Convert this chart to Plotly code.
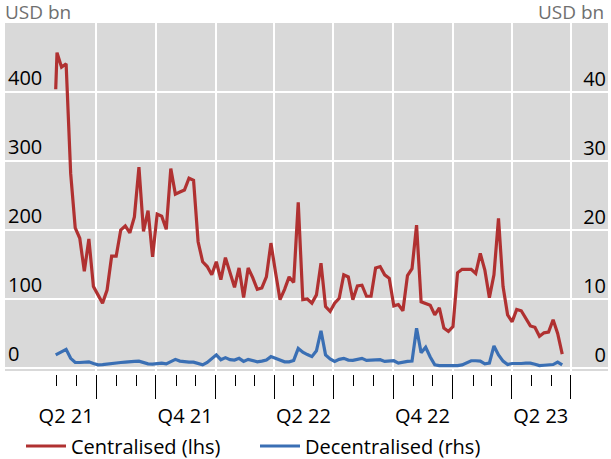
import plotly.graph_objects as go
import pandas as pd

# ---------------- data ----------------
first_date = "2021-04-30"
weekly_start = "2021-05-02"

centralised_first = 404
centralised = [
    457, 436, 441, 282, 203, 188, 140, 187, 118, 106,
    94, 113, 162, 162, 200, 206, 196, 219, 291, 198,
    228, 161, 223, 220, 201, 289, 252, 255, 258, 275,
    272, 183, 154, 147, 135, 154, 128, 160, 140, 117,
    145, 102, 145, 131, 114, 116, 132, 181, 139, 99,
    114, 132, 124, 240, 99, 100, 94, 106, 152, 89,
    82, 94, 101, 135, 132, 99, 119, 120, 104, 104,
    145, 147, 135, 130, 90, 92, 83, 134, 144, 207,
    96, 94, 91, 77, 87, 58, 53, 60, 138, 143,
    143, 143, 137, 166, 142, 102, 135, 217, 118, 77,
    67, 85, 83, 72, 61, 59, 46, 51, 52, 70,
    50, 20,
]

decentralised_first = 1.9
decentralised = [
    2.0, 2.4, 2.7, 1.4, 0.8, 0.8, 0.8, 0.9, 0.65, 0.45,
    0.5, 0.6, 0.7, 0.8, 0.8, 0.85, 0.85, 0.95, 1.0, 0.8,
    0.6, 0.55, 0.6, 0.7, 0.6, 0.9, 1.25, 1.0, 0.9, 0.85,
    0.85, 0.65, 0.45, 0.8, 1.4, 1.9, 1.2, 1.5, 1.2, 1.15,
    1.4, 0.95, 1.25, 1.1, 0.9, 1.0, 1.15, 1.65, 1.4, 1.15,
    0.9, 0.9, 1.1, 2.85, 2.3, 1.95, 1.65, 2.5, 5.4, 1.9,
    1.3, 0.95, 1.25, 1.4, 1.15, 1.1, 1.3, 1.4, 1.1, 1.15,
    1.2, 1.2, 0.95, 1.0, 1.05, 0.7, 0.85, 0.95, 1.0, 5.75,
    2.2, 3.0, 1.6, 0.45, 0.35, 0.35, 0.3, 0.3, 0.35, 0.45,
    0.8, 1.05, 1.05, 1.0, 0.6, 0.7, 3.2, 1.9, 1.0, 0.5,
    0.65, 0.6, 0.65, 0.7, 0.7, 0.55, 0.35, 0.4, 0.45, 0.5,
    0.85, 0.45,
]

quarter_labels = ["Q2 21", "Q4 21", "Q2 22", "Q4 22", "Q2 23"]
quarter_label_pos = ["2021-05-16", "2021-11-15", "2022-05-16", "2022-11-15", "2023-05-16"]
left_ticks = [0, 100, 200, 300, 400]
right_ticks = [0, 10, 20, 30, 40]

dates = [pd.Timestamp(first_date)] + list(pd.date_range(weekly_start, periods=len(centralised), freq="7D"))
y_cent = [centralised_first] + centralised
y_dec = [decentralised_first] + decentralised

major_ticks = list(pd.date_range("2021-07-01", "2023-07-01", freq="QS"))
minor_ticks = list(pd.date_range("2021-05-01", "2023-07-01", freq="MS"))

RED = "#b03131"
BLUE = "#3a6fb4"
FONT = "Open Sans"

W, H = 611, 459
L, R, T, B = 5, 3, 23, 80
ph = H - T - B
pw = W - L - R
ydom0 = (379 - 371) / ph
xpos = (379 - 374) / ph

x_range = ["2021-02-11", "2023-08-27 10:00"]

fig = go.Figure()
fig.add_trace(go.Scatter(x=dates, y=y_cent, name="Centralised (lhs)", mode="lines",
                         line=dict(color=RED, width=3.2), xaxis="x", yaxis="y"))
fig.add_trace(go.Scatter(x=dates, y=y_dec, name="Decentralised (rhs)", mode="lines",
                         line=dict(color=BLUE, width=3.2), xaxis="x", yaxis="y2"))
fig.add_trace(go.Scatter(x=[], y=[], xaxis="x2", yaxis="y", showlegend=False, hoverinfo="skip"))

fig.update_layout(
    template="none",
    width=W, height=H,
    margin=dict(l=L, r=R, t=T, b=B, pad=0, autoexpand=False),
    paper_bgcolor="white",
    plot_bgcolor="#d9d9d9",
    font=dict(family=FONT, size=20, color="black"),
    showlegend=True,
    legend=dict(orientation="h", xref="container", yref="container",
                x=21 / W, xanchor="left", y=1 - 446 / H, yanchor="middle",
                font=dict(size=20, family=FONT, color="black"),
                bgcolor="rgba(0,0,0,0)", borderwidth=0,
                itemwidth=40, entrywidth=179, entrywidthmode="pixels"),
    xaxis=dict(
        type="date", range=x_range, anchor="free", position=xpos, automargin=False,
        tickmode="array", tickvals=major_ticks, showticklabels=False,
        ticks="outside", ticklen=24, tickwidth=1, tickcolor="black",
        minor=dict(tickmode="array", tickvals=minor_ticks, ticks="outside", ticklen=11,
                   tickwidth=1, tickcolor="black", showgrid=False),
        showgrid=True, gridcolor="white", gridwidth=2,
        showline=False, zeroline=False,
    ),
    xaxis2=dict(
        type="date", range=x_range, overlaying="x", anchor="free", position=xpos,
        automargin=False,
        tickmode="array", tickvals=quarter_label_pos, ticktext=quarter_labels,
        ticks="outside", ticklen=24, tickcolor="rgba(0,0,0,0)",
        tickfont=dict(size=20, family=FONT, color="black"),
        showgrid=False, showline=False, zeroline=False,
    ),
    yaxis=dict(
        domain=[ydom0, 1], range=[-4.35, 500], automargin=False,
        tickmode="array", tickvals=left_ticks,
        ticklabelposition="inside", ticks="", ticklen=0, ticklabelshift=-14,
        tickfont=dict(size=20, family=FONT, color="black"),
        showgrid=True, gridcolor="white", gridwidth=2,
        zeroline=False, showline=False,
    ),
    yaxis2=dict(
        overlaying="y", side="left", anchor="free", position=(606 - L) / pw,
        range=[-0.435, 50], automargin=False,
        tickmode="array", tickvals=right_ticks,
        ticklabelposition="outside", ticks="", ticklen=0, ticklabelshift=-13,
        tickfont=dict(size=20, family=FONT, color="black"),
        showgrid=False, zeroline=False, showline=False,
    ),
    annotations=[
        dict(text="USD bn", xref="paper", yref="paper", x=-0.004, y=(379 - 12) / ph,
             xanchor="left", yanchor="middle", showarrow=False,
             font=dict(size=19, family=FONT, color="#6f6f6f")),
        dict(text="USD bn", xref="paper", yref="paper", x=0.997, y=(379 - 12) / ph,
             xanchor="right", yanchor="middle", showarrow=False,
             font=dict(size=19, family=FONT, color="#6f6f6f")),
    ],
)

fig.write_html("out.html", config={"displayModeBar": False},
               post_script="document.body.style.margin='0';")
